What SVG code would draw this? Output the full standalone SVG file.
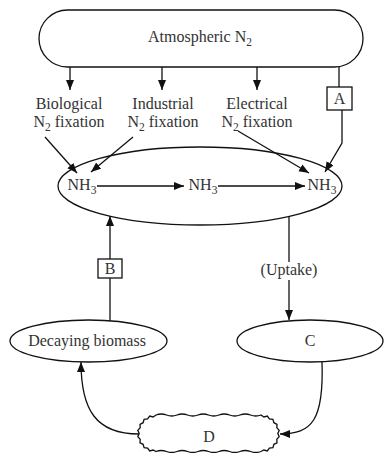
<svg xmlns="http://www.w3.org/2000/svg" width="387" height="453" viewBox="0 0 387 453">
<style>
.s{fill:none;stroke:#111;stroke-width:1.3}
.b{fill:#fff;stroke:#111;stroke-width:1.3}
.t{font-family:"Liberation Serif","Times New Roman",serif;font-size:16px;fill:#333;text-anchor:middle}
.sub{font-size:11.5px}
.c{fill:none;stroke:#111;stroke-width:1.3;marker-end:url(#ah)}
</style>
<defs>
<marker id="ah" markerUnits="userSpaceOnUse" markerWidth="12" markerHeight="10" refX="10" refY="4" orient="auto">
<path d="M0,0 L10,4 L0,8 Z" fill="#111"/>
</marker>
</defs>
<rect width="387" height="453" fill="#fff"/>

<g id="atmospheric">
<rect class="b" x="39" y="10" width="324" height="57" rx="28.5" ry="28.5"/>
<text class="t" x="200" y="42">Atmospheric N<tspan class="sub" dy="4">2</tspan></text>
</g>

<g id="biological">
<text class="t" x="69" y="109">Biological</text>
<text class="t" x="69" y="127">N<tspan class="sub" dy="4">2</tspan><tspan dy="-4"> fixation</tspan></text>
</g>
<g id="industrial">
<text class="t" x="163" y="109">Industrial</text>
<text class="t" x="163" y="127">N<tspan class="sub" dy="4">2</tspan><tspan dy="-4"> fixation</tspan></text>
</g>
<g id="electrical">
<text class="t" x="257" y="109">Electrical</text>
<text class="t" x="257" y="127">N<tspan class="sub" dy="4">2</tspan><tspan dy="-4"> fixation</tspan></text>
</g>

<g id="nh3pool">
<ellipse class="s" cx="200" cy="186" rx="142" ry="39"/>
<text class="t" x="82" y="190">NH<tspan class="sub" dy="4">3</tspan></text>
<text class="t" x="203" y="190">NH<tspan class="sub" dy="4">3</tspan></text>
<text class="t" x="322" y="190">NH<tspan class="sub" dy="4">3</tspan></text>
</g>

<g id="boxA">
<rect class="b" x="327" y="87" width="25" height="23"/>
<text class="t" x="339.5" y="104">A</text>
</g>

<g id="boxB">
<rect class="b" x="98" y="259" width="24" height="19"/>
<text class="t" x="110" y="274">B</text>
</g>

<g id="decaying">
<ellipse class="s" cx="88.5" cy="341" rx="78.5" ry="21"/>
<text class="t" x="87" y="346">Decaying biomass</text>
</g>

<g id="C">
<ellipse class="s" cx="310" cy="341" rx="73" ry="21"/>
<text class="t" x="310" y="346">C</text>
</g>

<g id="D">
<path class="b" d="M156,415 q5.25,-2 10.5,0 t10.5,0 t10.5,0 t10.5,0 t10.5,0 t10.5,0 t10.5,0 t10.5,0 t10.5,0 t10.5,0 L263.9,417 L267.3,416.1 L269.4,419 L272.9,419.3 L273.9,422.7 L277,424.3 L276.8,427.8 L279.2,430.3 L277.8,433.5 L279.2,436.7 L276.8,439.2 L277,442.8 L273.9,444.3 L272.9,447.7 L269.4,448 L267.3,450.9 L263.9,450 L261,451.5 q-5.25,2 -10.5,0 t-10.5,0 t-10.5,0 t-10.5,0 t-10.5,0 t-10.5,0 t-10.5,0 t-10.5,0 t-10.5,0 t-10.5,0 L153.1,450 L149.7,450.9 L147.6,448 L144.1,447.7 L143.1,444.3 L140,442.8 L140.2,439.2 L137.8,436.7 L139.2,433.5 L137.8,430.3 L140.2,427.8 L140,424.3 L143.1,422.7 L144.1,419.3 L147.6,419 L149.7,416.1 L153.1,417 Z"/>
<text class="t" x="209" y="442">D</text>
</g>

<g id="connectors">
<line class="c" x1="70" y1="67" x2="70" y2="90"/>
<line class="c" x1="162" y1="67" x2="162" y2="90"/>
<line class="c" x1="257" y1="67" x2="257" y2="90"/>
<line class="s" x1="339" y1="67" x2="339" y2="87"/>
<path class="c" d="M342,110 L342,143 L325,172"/>
<line class="c" x1="45" y1="137" x2="77" y2="173"/>
<line class="c" x1="133" y1="137" x2="91" y2="172"/>
<line class="c" x1="238" y1="131" x2="309" y2="173"/>
<line class="c" x1="97" y1="186" x2="184" y2="186"/>
<line class="c" x1="218" y1="186" x2="305" y2="186"/>
<line class="s" x1="110" y1="321" x2="110" y2="278"/>
<line class="c" x1="110" y1="259" x2="110" y2="216"/>
<line class="c" x1="289" y1="216" x2="289" y2="320"/>
<path class="c" d="M139,434 C96,434 81,410 81,362"/>
<path class="c" d="M322,362 C324,420 312,434 280,434"/>
</g>
<g id="uptake">
<rect x="257" y="262" width="64" height="18" fill="#fff"/>
<text class="t" x="289" y="275">(Uptake)</text>
</g>
</svg>
